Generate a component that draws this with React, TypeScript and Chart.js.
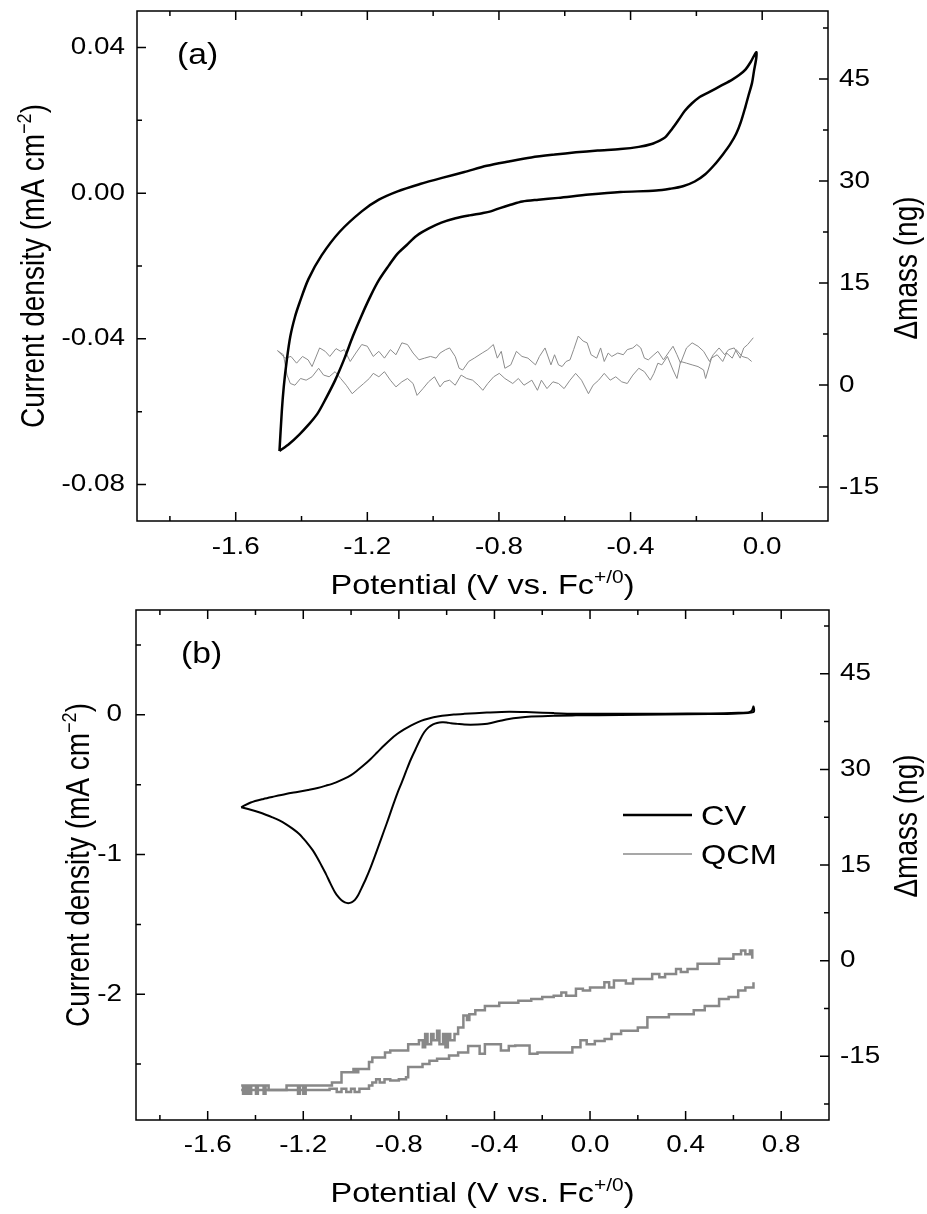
import React, { useEffect, useRef } from "react";
import { Chart, registerables } from "chart.js";
Chart.register(...registerables);

type P = [number, number];
const FONT = "'Liberation Sans', Arial, Helvetica, sans-serif";
const SX = 1.16; // horizontal glyph stretch seen in the reference lettering

// ---------------- Panel (a) ----------------
const aXMajor = [-1.6, -1.2, -0.8, -0.4, 0.0];
const aXMinor = [-1.8, -1.4, -1.0, -0.6, -0.2];
const aJMajor = [0.04, 0.0, -0.04, -0.08];
const aJMinor = [0.02, -0.02, -0.06];
const aMMajor = [45, 30, 15, 0, -15];
const aMMinor = [52.5, 37.5, 22.5, 7.5, -7.5];

const aCvUpper: P[] = [
  [-1.467, -0.0708], [-1.46, -0.06], [-1.454, -0.0532], [-1.445, -0.046], [-1.434, -0.0393],
  [-1.42, -0.034], [-1.406, -0.0301], [-1.379, -0.0236], [-1.339, -0.0171], [-1.284, -0.0106],
  [-1.217, -0.005], [-1.165, -0.0018], [-1.108, 0.0005], [-1.04, 0.0025], [-0.973, 0.0042],
  [-0.905, 0.0058], [-0.837, 0.0075], [-0.77, 0.0087], [-0.702, 0.0098], [-0.63, 0.0106],
  [-0.566, 0.0112], [-0.5, 0.0117], [-0.431, 0.0121], [-0.375, 0.0127], [-0.336, 0.0135],
  [-0.31, 0.0145], [-0.295, 0.0153], [-0.275, 0.0175], [-0.255, 0.02], [-0.235, 0.0226],
  [-0.214, 0.0246], [-0.19, 0.0264], [-0.16, 0.0278], [-0.125, 0.0295], [-0.092, 0.0311],
  [-0.07, 0.0324], [-0.051, 0.0339], [-0.035, 0.036], [-0.018, 0.0387],
];
const aCvLower: P[] = [
  [-0.018, 0.0371], [-0.025, 0.0335], [-0.031, 0.0302], [-0.041, 0.027], [-0.051, 0.0237],
  [-0.065, 0.0195], [-0.079, 0.0163], [-0.098, 0.0133], [-0.119, 0.0107], [-0.145, 0.0078],
  [-0.173, 0.0052], [-0.205, 0.0032], [-0.241, 0.0019], [-0.28, 0.0012], [-0.322, 0.0007],
  [-0.431, 0.0003], [-0.526, -0.0004], [-0.62, -0.0013], [-0.68, -0.0018], [-0.729, -0.0023],
  [-0.765, -0.0032], [-0.797, -0.0041], [-0.825, -0.005], [-0.851, -0.0055], [-0.89, -0.0061],
  [-0.932, -0.0069], [-0.975, -0.0081], [-1.013, -0.0097], [-1.05, -0.0117], [-1.081, -0.0143],
  [-1.11, -0.0168], [-1.135, -0.0199], [-1.165, -0.0239], [-1.19, -0.0282], [-1.217, -0.0335],
  [-1.244, -0.0393], [-1.27, -0.0455], [-1.298, -0.0514], [-1.325, -0.0562], [-1.352, -0.0606],
  [-1.38, -0.0637], [-1.406, -0.0662], [-1.437, -0.0688], [-1.467, -0.0708],
];
const aQcmHigh: P[] = [
  [-1.473, 5.05], [-1.45, 3.95], [-1.432, 4.2], [-1.415, 3.21], [-1.397, 4.2], [-1.38, 3.7],
  [-1.368, 2.71], [-1.345, 5.45], [-1.328, 4.95], [-1.314, 4.2], [-1.295, 5.35], [-1.281, 4.95],
  [-1.27, 5.2], [-1.252, 3.46], [-1.235, 4.7], [-1.217, 5.95], [-1.2, 5.7], [-1.182, 4.2],
  [-1.165, 4.95], [-1.148, 3.95], [-1.13, 5.2], [-1.113, 4.45], [-1.095, 6.2], [-1.078, 5.95],
  [-1.061, 4.7], [-1.043, 3.7], [-1.026, 3.95], [-1.008, 4.2], [-0.991, 3.95], [-0.979, 4.7],
  [-0.962, 5.2], [-0.95, 5.45], [-0.933, 4.2], [-0.921, 2.46], [-0.91, 2.21], [-0.892, 3.46],
  [-0.875, 3.95], [-0.851, 4.7], [-0.834, 5.2], [-0.817, 5.95], [-0.805, 3.95], [-0.793, 4.95],
  [-0.782, 2.46], [-0.764, 2.96], [-0.747, 4.95], [-0.73, 4.2], [-0.712, 3.95], [-0.689, 2.96],
  [-0.677, 4.2], [-0.66, 5.45], [-0.642, 2.96], [-0.631, 4.45], [-0.619, 2.96], [-0.608, 2.71],
  [-0.596, 3.46], [-0.584, 3.7], [-0.573, 5.2], [-0.559, 7.2], [-0.544, 6.45], [-0.532, 6.2],
  [-0.52, 4.45], [-0.503, 3.95], [-0.491, 5.45], [-0.48, 3.46], [-0.468, 4.7], [-0.457, 4.2],
  [-0.439, 4.7], [-0.422, 4.45], [-0.41, 5.2], [-0.393, 5.45], [-0.381, 5.95], [-0.369, 5.45],
  [-0.358, 3.95], [-0.346, 3.7], [-0.329, 4.45], [-0.317, 4.95], [-0.3, 3.7], [-0.282, 4.95],
  [-0.271, 5.7], [-0.259, 4.45], [-0.248, 3.21], [-0.23, 5.45], [-0.213, 6.2], [-0.195, 5.7],
  [-0.178, 4.95], [-0.16, 3.46], [-0.149, 4.45], [-0.131, 5.45], [-0.114, 4.45], [-0.102, 5.2],
  [-0.085, 5.45], [-0.067, 3.95], [-0.056, 5.45], [-0.044, 5.95], [-0.027, 6.95],
];
const aQcmLow: P[] = [
  [-1.473, 5.05], [-1.455, 4.45], [-1.444, 1.46], [-1.434, 0.22], [-1.42, -0.03], [-1.403, 0.96],
  [-1.386, 0.71], [-1.368, 1.21], [-1.348, 2.46], [-1.333, 1.46], [-1.316, 1.21], [-1.298, 1.96],
  [-1.281, 0.96], [-1.264, -0.03], [-1.246, -1.28], [-1.229, -0.53], [-1.211, 0.22], [-1.194, 0.96],
  [-1.182, 1.71], [-1.165, 1.21], [-1.148, 1.96], [-1.13, 0.71], [-1.113, -0.28], [-1.095, 0.47],
  [-1.078, 0.96], [-1.061, 0.22], [-1.049, -1.53], [-1.031, -0.53], [-1.014, 0.47], [-0.996, 1.21],
  [-0.979, -0.28], [-0.967, 0.47], [-0.95, 0.71], [-0.933, -0.03], [-0.915, 1.46], [-0.898, 0.96],
  [-0.88, 0.71], [-0.863, -0.03], [-0.849, -0.78], [-0.834, 0.22], [-0.816, 1.21], [-0.799, 1.71],
  [-0.782, 0.96], [-0.758, 0.22], [-0.741, 0.96], [-0.724, -0.03], [-0.7, 0.71], [-0.683, -0.78],
  [-0.671, 0.71], [-0.654, -0.53], [-0.636, 0.47], [-0.619, 0.22], [-0.602, -0.53], [-0.584, 0.71],
  [-0.567, 1.71], [-0.549, 0.71], [-0.528, -1.28], [-0.514, -0.03], [-0.497, 0.71], [-0.48, 1.71],
  [-0.462, 0.71], [-0.445, 1.21], [-0.427, 0.47], [-0.41, 0.22], [-0.393, 1.46], [-0.375, 2.46],
  [-0.358, 1.96], [-0.34, 0.71], [-0.329, 1.71], [-0.317, 3.21], [-0.305, 2.96], [-0.288, 4.2],
  [-0.271, 2.21], [-0.259, 0.96], [-0.248, 3.46], [-0.23, 3.21], [-0.213, 2.96], [-0.195, 2.71],
  [-0.178, 2.21], [-0.172, 0.96], [-0.154, 3.95], [-0.137, 4.45], [-0.12, 3.46], [-0.108, 4.7],
  [-0.091, 3.95], [-0.079, 5.2], [-0.061, 4.2], [-0.044, 3.95], [-0.032, 3.46],
];

// ---------------- Panel (b) ----------------
const bXMajor = [-1.6, -1.2, -0.8, -0.4, 0.0, 0.4, 0.8];
const bXMinor = [-1.8, -1.4, -1.0, -0.6, -0.2, 0.2, 0.6];
const bJMajor = [0, -1, -2];
const bJMinor = [0.5, -0.5, -1.5, -2.5];
const bMMajor = [45, 30, 15, 0, -15];
const bMMinor = [52.5, 37.5, 22.5, 7.5, -7.5, -22.5];

const bCvUpper: P[] = [
  [-1.46, -0.662], [-1.42, -0.628], [-1.367, -0.602], [-1.32, -0.584], [-1.273, -0.567],
  [-1.225, -0.552], [-1.18, -0.538], [-1.14, -0.524], [-1.105, -0.507], [-1.065, -0.485],
  [-1.03, -0.459], [-1.0, -0.432], [-0.974, -0.399], [-0.945, -0.358], [-0.918, -0.316],
  [-0.89, -0.268], [-0.862, -0.22], [-0.835, -0.176], [-0.806, -0.136], [-0.778, -0.104],
  [-0.75, -0.077], [-0.722, -0.054], [-0.694, -0.036], [-0.655, -0.018], [-0.619, -0.007],
  [-0.57, 0.002], [-0.526, 0.007], [-0.432, 0.016], [-0.339, 0.022], [-0.246, 0.018],
  [-0.152, 0.012], [-0.059, 0.008], [0.128, 0.007], [0.314, 0.008], [0.501, 0.01],
  [0.62, 0.014], [0.665, 0.018], [0.677, 0.03], [0.684, 0.06],
];
const bCvLower: P[] = [
  [0.684, 0.019], [0.6, 0.008], [0.501, 0.006], [0.314, 0.002], [0.128, -0.002],
  [-0.059, -0.004], [-0.152, -0.006], [-0.246, -0.013], [-0.3, -0.021], [-0.339, -0.03],
  [-0.38, -0.045], [-0.414, -0.058], [-0.44, -0.066], [-0.47, -0.07], [-0.5, -0.071],
  [-0.526, -0.07], [-0.555, -0.065], [-0.582, -0.06], [-0.6, -0.055], [-0.619, -0.054],
  [-0.64, -0.058], [-0.657, -0.068], [-0.676, -0.09], [-0.694, -0.125], [-0.712, -0.18],
  [-0.731, -0.25], [-0.75, -0.32], [-0.769, -0.4], [-0.787, -0.48], [-0.806, -0.56],
  [-0.825, -0.65], [-0.843, -0.74], [-0.862, -0.83], [-0.881, -0.92], [-0.9, -1.01],
  [-0.918, -1.092], [-0.937, -1.17], [-0.956, -1.24], [-0.97, -1.29], [-0.984, -1.325],
  [-0.998, -1.343], [-1.012, -1.348], [-1.026, -1.343], [-1.04, -1.328], [-1.055, -1.3],
  [-1.068, -1.268], [-1.087, -1.205], [-1.105, -1.14], [-1.124, -1.078], [-1.142, -1.021],
  [-1.16, -0.97], [-1.18, -0.925], [-1.2, -0.885], [-1.217, -0.853], [-1.245, -0.815],
  [-1.273, -0.782], [-1.3, -0.756], [-1.329, -0.734], [-1.357, -0.715], [-1.385, -0.698],
  [-1.42, -0.68], [-1.46, -0.662],
];
const bQcmHigh: P[] = [
  [-1.46, -19.6], [-1.452, -20.9], [-1.446, -19.6], [-1.44, -20.9], [-1.432, -19.6], [-1.425, -20.9],
  [-1.418, -19.6], [-1.405, -19.6], [-1.398, -20.9], [-1.39, -19.6], [-1.372, -19.6], [-1.366, -20.9],
  [-1.358, -19.6], [-1.345, -20.3], [-1.29, -20.3], [-1.27, -19.6], [-1.23, -19.6], [-1.222, -20.9],
  [-1.214, -19.6], [-1.2, -20.9], [-1.19, -19.6], [-1.12, -19.6], [-1.08, -19.1], [-1.04, -17.5],
  [-0.998, -17.5], [-0.99, -17.0], [-0.98, -17.5], [-0.97, -17.0], [-0.95, -17.0], [-0.925, -15.9],
  [-0.911, -15.2], [-0.87, -15.2], [-0.858, -14.4], [-0.836, -14.1], [-0.78, -14.1], [-0.761, -13.1],
  [-0.73, -13.1], [-0.716, -12.5], [-0.7, -13.6], [-0.69, -11.5], [-0.68, -13.1], [-0.665, -11.5],
  [-0.655, -12.5], [-0.64, -11.0], [-0.63, -13.1], [-0.615, -11.5], [-0.605, -13.6], [-0.595, -11.5],
  [-0.585, -12.5], [-0.567, -11.5], [-0.552, -10.5], [-0.54, -10.5], [-0.53, -8.6], [-0.515, -9.3],
  [-0.505, -8.4], [-0.492, -8.4], [-0.48, -7.8], [-0.462, -7.8], [-0.44, -7.1], [-0.4, -7.1],
  [-0.38, -6.6], [-0.349, -6.6], [-0.3, -6.3],
  [-0.246, -6.0], [-0.2, -5.7], [-0.152, -5.5], [-0.12, -5.0], [-0.1, -5.5], [-0.059, -4.4],
  [-0.03, -4.7], [0.0, -4.2], [0.035, -4.2], [0.06, -3.4], [0.08, -4.2], [0.1, -3.1],
  [0.128, -3.1], [0.15, -3.6], [0.18, -2.9], [0.221, -2.9], [0.26, -2.1], [0.29, -2.6],
  [0.314, -2.1], [0.36, -1.3], [0.38, -1.8], [0.408, -1.3], [0.45, -0.5], [0.501, -0.5],
  [0.54, 0.3], [0.576, 0.3], [0.6, 1.0], [0.632, 1.6], [0.65, 1.0], [0.669, 1.6], [0.679, 0.3],
];
const bQcmLow: P[] = [
  [-1.46, -20.3], [-1.3, -20.3], [-1.2, -20.3], [-1.12, -20.3], [-1.09, -20.1], [-1.06, -20.6],
  [-1.04, -20.1], [-1.02, -20.6], [-1.0, -20.1], [-0.985, -20.6], [-0.965, -20.1], [-0.94, -20.1],
  [-0.925, -19.6], [-0.911, -19.1], [-0.895, -18.6], [-0.88, -19.1], [-0.86, -18.6], [-0.836, -18.8],
  [-0.8, -18.6], [-0.77, -18.3], [-0.761, -16.7], [-0.73, -16.7], [-0.701, -16.2], [-0.672, -15.7],
  [-0.64, -15.4], [-0.612, -15.4], [-0.59, -14.9], [-0.552, -14.4], [-0.51, -13.4], [-0.48, -13.4],
  [-0.462, -14.6], [-0.44, -13.1], [-0.4, -13.1], [-0.373, -14.1], [-0.34, -13.4], [-0.313, -13.3],
  [-0.28, -13.3], [-0.253, -14.6], [-0.22, -14.4], [-0.134, -14.4], [-0.1, -14.4], [-0.074, -13.6],
  [-0.04, -12.5], [-0.014, -13.1], [0.02, -12.6], [0.061, -12.3], [0.09, -11.5], [0.13, -11.0],
  [0.165, -11.0], [0.2, -10.5], [0.24, -8.9], [0.28, -8.9], [0.33, -8.4], [0.38, -8.4],
  [0.434, -7.8], [0.48, -7.1], [0.509, -7.1], [0.54, -6.0], [0.58, -5.7], [0.62, -4.7],
  [0.65, -4.2], [0.684, -3.4],
];

// ---------------- drawing helpers ----------------
type Part = { t: string; sup?: boolean };
function drawRich(
  ctx: CanvasRenderingContext2D, parts: Part[], x: number, y: number, size: number,
  align: "left" | "center" | "right" = "center", baseline: CanvasTextBaseline = "alphabetic", rotate = false,
) {
  const fontOf = (p: Part) => `${p.sup ? Math.round(size * 0.64) : size}px ${FONT}`;
  const widths = parts.map((p) => { ctx.font = fontOf(p); return ctx.measureText(p.t).width; });
  const total = widths.reduce((s, w) => s + w, 0);
  ctx.save();
  ctx.translate(x, y);
  ctx.scale(SX, 1);
  if (rotate) ctx.rotate(-Math.PI / 2);
  let cx = align === "center" ? -total / 2 : align === "right" ? -total : 0;
  ctx.textAlign = "left";
  ctx.textBaseline = baseline;
  parts.forEach((p, i) => {
    ctx.font = fontOf(p);
    ctx.fillText(p.t, cx, p.sup ? -size * 0.4 : 0);
    cx += widths[i];
  });
  ctx.restore();
}

const TICK_FS = 24;
const TITLE_FS = 28;

const decor = {
  id: "decor",
  afterDraw(chart: any, _a: any, o: any) {
    const { ctx, chartArea: a, scales } = chart;
    const xs = scales.x, yl = scales.y, yr = scales.y1;
    ctx.save();
    ctx.strokeStyle = "#000";
    ctx.lineWidth = 1.5;
    ctx.beginPath();
    const MAJ = 9, MIN = 5;
    const xt = (vals: number[], len: number) => vals.forEach((v) => {
      const p = xs.getPixelForValue(v);
      ctx.moveTo(p, a.bottom); ctx.lineTo(p, a.bottom - len);
      ctx.moveTo(p, a.top); ctx.lineTo(p, a.top + len);
    });
    const ylt = (vals: number[], len: number) => vals.forEach((v) => {
      const p = yl.getPixelForValue(v);
      ctx.moveTo(a.left, p); ctx.lineTo(a.left + len, p);
    });
    const yrt = (vals: number[], len: number) => vals.forEach((v) => {
      const p = yr.getPixelForValue(v);
      ctx.moveTo(a.right, p); ctx.lineTo(a.right - len, p);
    });
    xt(o.xMajor, MAJ); xt(o.xMinor, MIN);
    ylt(o.yMajor, MAJ); ylt(o.yMinor, MIN);
    yrt(o.rMajor, MAJ); yrt(o.rMinor, MIN);
    ctx.stroke();
    ctx.strokeRect(a.left, a.top, a.right - a.left, a.bottom - a.top);

    ctx.fillStyle = "#000";
    o.xMajor.forEach((v: number) =>
      drawRich(ctx, [{ t: v.toFixed(1) }], xs.getPixelForValue(v), a.bottom + o.xLabelDy, TICK_FS, "center", "middle"));
    o.yMajor.forEach((v: number) =>
      drawRich(ctx, [{ t: v.toFixed(o.yDigits) }], a.left - o.yLabelGap, yl.getPixelForValue(v), TICK_FS, "right", "middle"));
    o.rMajor.forEach((v: number) =>
      drawRich(ctx, [{ t: v.toFixed(0) }], a.right + o.rLabelGap, yr.getPixelForValue(v), TICK_FS, "left", "middle"));

    drawRich(ctx, [{ t: "Potential (V vs. Fc" }, { t: "+/0", sup: true }, { t: ")" }],
      (a.left + a.right) / 2, o.xTitleY, TITLE_FS);
    drawRich(ctx, [{ t: "Current density (mA cm" }, { t: "\u22122", sup: true }, { t: ")" }],
      o.yTitleX + TITLE_FS * 0.36 * SX, (a.top + a.bottom) / 2, TITLE_FS, "center", "alphabetic", true);
    drawRich(ctx, [{ t: "\u0394mass (ng)" }],
      o.rTitleX + TITLE_FS * 0.36 * SX, o.rTitleY, TITLE_FS, "center", "alphabetic", true);
    drawRich(ctx, [{ t: o.label }], o.labelX, o.labelY, 29, "left");
    if (o.legend) {
      const L = o.legend;
      ctx.lineWidth = 2.5;
      ctx.strokeStyle = "#000";
      ctx.beginPath(); ctx.moveTo(L.x0, L.y1); ctx.lineTo(L.x1, L.y1); ctx.stroke();
      ctx.strokeStyle = "#8a8a8a";
      ctx.lineWidth = 1.5;
      ctx.beginPath(); ctx.moveTo(L.x0, L.y2); ctx.lineTo(L.x1, L.y2); ctx.stroke();
      drawRich(ctx, [{ t: "CV" }], L.tx, L.y1 + 10, TITLE_FS, "left");
      drawRich(ctx, [{ t: "QCM" }], L.tx, L.y2 + 10, TITLE_FS, "left");
    }
    ctx.restore();
  },
};

const pts = (arr: P[]) => arr.map(([x, y]) => ({ x, y }));

function axis(pos: string, min: number, max: number, major: number[], size: (s: any) => void) {
  return {
    type: "linear",
    position: pos,
    min, max,
    grid: { display: false, drawTicks: false },
    border: { display: false },
    afterBuildTicks: (s: any) => { s.ticks = major.map((v) => ({ value: v })); },
    afterFit: (s: any) => {
      size(s);
      s.paddingTop = 0; s.paddingBottom = 0; s.paddingLeft = 0; s.paddingRight = 0;
    },
    ticks: { display: false },
  };
}

function buildConfig(spec: any): any {
  const W = 927;
  return {
    type: "scatter",
    data: { datasets: spec.datasets },
    options: {
      responsive: false,
      animation: false,
      devicePixelRatio: 1,
      layout: { padding: { top: spec.top, left: 0, right: 0, bottom: 0 } },
      plugins: { legend: { display: false }, tooltip: { enabled: false }, decor: spec.decor },
      scales: {
        x: axis("bottom", spec.xMin, spec.xMax, spec.decor.xMajor, (s: any) => { s.height = spec.H - spec.bottom; }),
        y: axis("left", spec.yMin, spec.yMax, spec.decor.yMajor, (s: any) => { s.width = spec.left; }),
        y1: axis("right", spec.rMin, spec.rMax, spec.decor.rMajor, (s: any) => { s.width = W - spec.right; }),
      },
    },
    plugins: [decor],
  };
}

const line = (data: P[], color: string, width: number, axisId: string, extra: any = {}) => ({
  data: pts(data), showLine: true, pointRadius: 0, borderColor: color, borderWidth: width,
  xAxisID: "x", yAxisID: axisId, fill: false, ...extra,
});

const specA = {
  H: 600, top: 11, bottom: 521, left: 137, right: 828,
  xMin: -1.9, xMax: 0.2, yMin: -0.09, yMax: 0.05, rMin: -20, rMax: 55,
  datasets: [
    line([...aCvUpper, ...aCvLower], "#000", 2.5, "y", { tension: 0.3 }),
    line(aQcmHigh, "#8c8c8c", 1, "y1"),
    line(aQcmLow, "#8c8c8c", 1, "y1"),
  ],
  decor: {
    xMajor: aXMajor, xMinor: aXMinor, yMajor: aJMajor, yMinor: aJMinor, rMajor: aMMajor, rMinor: aMMinor,
    yDigits: 2, xLabelDy: 26, yLabelGap: 12, rLabelGap: 11,
    xTitleY: 594, yTitleX: 32, rTitleX: 905, rTitleY: 268, label: "(a)", labelX: 177, labelY: 64,
  },
};

const specB = {
  H: 614, top: 10, bottom: 520, left: 136, right: 829,
  xMin: -1.9, xMax: 1.0, yMin: -2.9, yMax: 0.75, rMin: -25, rMax: 55,
  datasets: [
    line([...bCvUpper, ...bCvLower], "#000", 2, "y", { tension: 0.3 }),
    line(bQcmHigh, "#888888", 2.5, "y1", { stepped: true }),
    line(bQcmLow, "#888888", 2.5, "y1", { stepped: true }),
  ],
  decor: {
    xMajor: bXMajor, xMinor: bXMinor, yMajor: bJMajor, yMinor: bJMinor, rMajor: bMMajor, rMinor: bMMinor,
    yDigits: 0, xLabelDy: 25, yLabelGap: 14, rLabelGap: 11,
    xTitleY: 602, yTitleX: 77, rTitleX: 905, rTitleY: 226, label: "(b)", labelX: 181, labelY: 63,
    legend: { x0: 623, x1: 692, tx: 701, y1: 215, y2: 254 },
  },
};

function Panel({ spec, top }: { spec: any; top: number }) {
  const ref = useRef<HTMLCanvasElement>(null);
  useEffect(() => {
    const chart = new Chart(ref.current as HTMLCanvasElement, buildConfig(spec));
    return () => chart.destroy();
  }, []);
  return (
    <canvas
      ref={ref}
      width={927}
      height={spec.H}
      style={{ position: "absolute", left: 0, top, width: 927, height: spec.H }}
    />
  );
}

export default function App() {
  return (
    <div style={{ position: "absolute", left: 0, top: 0, width: 927, height: 1214, background: "#fff" }}>
      <Panel spec={specA} top={0} />
      <Panel spec={specB} top={600} />
    </div>
  );
}
